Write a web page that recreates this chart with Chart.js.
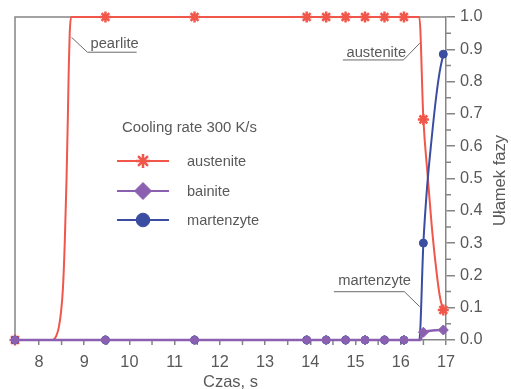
<!DOCTYPE html>
<html>
<head>
<meta charset="utf-8">
<script src="https://cdn.jsdelivr.net/npm/chart.js@4/dist/chart.umd.min.js"></script>
<style>
  html, body { margin: 0; padding: 0; background: #ffffff; }
  #wrap { width: 511px; height: 389px; }
</style>
</head>
<body>
<div id="wrap"><canvas id="c" width="511" height="389"></canvas></div>
<script>
// Axis ticks
const xTicks = [8, 9, 10, 11, 12, 13, 14, 15, 16, 17];
const yTicks = [0, 0.1, 0.2, 0.3, 0.4, 0.5, 0.6, 0.7, 0.8, 0.9, 1.0];
const xRange = [7.47, 17];

// Sampled (marked) times, s, and phase fractions at those times
const sampleTimes = [7.47, 9.47, 11.44, 13.92, 14.35, 14.78, 15.21, 15.64, 16.07, 16.5, 16.94];
const austeniteSamples = [0, 1, 1, 1, 1, 1, 1, 1, 1, 0.683, 0.093];
const bainiteSamples = [0, 0, 0, 0, 0, 0, 0, 0, 0, 0.024, 0.031];
const martensiteSamples = [0, 0, 0, 0, 0, 0, 0, 0, 0, 0.3, 0.885];

// Continuous curves
const austeniteTimes = [7.47, 8.3, 8.38, 8.44, 8.49, 8.53, 8.57, 8.61, 8.64, 8.66, 8.68, 8.71, 16.41, 16.5, 16.6, 16.7, 16.8, 16.87, 16.94];
const austeniteCurve = [0, 0, 0.012, 0.04, 0.09, 0.16, 0.3, 0.5, 0.7, 0.85, 0.95, 1.0, 1.0, 0.683, 0.5, 0.33, 0.2, 0.13, 0.093];
const bainiteTimes = [7.47, 16.43, 16.5, 16.94];
const bainiteCurve = [0, 0, 0.024, 0.031];
const martensiteTimes = [7.47, 16.41, 16.5, 16.58, 16.68, 16.78, 16.86, 16.94];
const martensiteCurve = [0, 0, 0.3, 0.47, 0.62, 0.75, 0.83, 0.885];

// Text
const seriesNames = ['austenite', 'bainite', 'martenzyte'];
const legendTitle = 'Cooling rate 300 K/s';
const xTitle = 'Czas, s';
const yTitle = 'Ułamek fazy';

// Leader-line callouts: text anchor and the polyline (end, elbow, tip) in data units
const calloutTexts = ['pearlite', 'austenite', 'martenzyte'];
const calloutTextAt = [[9.14, 0.904], [14.80, 0.877], [14.62, 0.170]];
const calloutLines = [
  [[10.16, 0.891], [9.07, 0.891], [8.72, 0.937]],
  [[14.72, 0.867], [16.06, 0.867], [16.42, 0.919]],
  [[14.52, 0.1495], [16.08, 0.1495], [16.42, 0.103]]
];

const FONT = "'Liberation Sans', Arial, sans-serif";
const GREY = '#858585';
const TEXT = '#595959';
const RED = '#f0574a';
const PURPLE = '#8c60b0';
const BLUE = '#3b4da1';

const pts = (xs, ys) => xs.map((x, i) => ({ x: x, y: ys[i] }));

const legendStyles = [
  { color: RED, style: 'star', radius: 7, fill: RED, width: 2.5 },
  { color: PURPLE, style: 'rectRot', radius: 8.5, fill: PURPLE, width: 1 },
  { color: BLUE, style: 'circle', radius: 6.8, fill: BLUE, width: 1 }
];

const decorations = {
  id: 'decorations',
  beforeDatasetsDraw(chart) {
    const { ctx, chartArea: a } = chart;
    ctx.save();
    ctx.strokeStyle = GREY;
    ctx.lineWidth = 1.5;
    ctx.beginPath();
    ctx.moveTo(a.left, a.bottom);
    ctx.lineTo(a.left, a.top);
    ctx.lineTo(a.right, a.top);
    ctx.stroke();
    // minor ticks
    const xs = chart.scales.x, ys = chart.scales.y;
    ctx.beginPath();
    for (let v = 8.5; v < 17; v += 1) {
      const px = xs.getPixelForValue(v);
      ctx.moveTo(px, a.bottom);
      ctx.lineTo(px, a.bottom + 5);
    }
    for (let i = 0; i < 10; i++) {
      const py = ys.getPixelForValue(0.05 + i * 0.1);
      ctx.moveTo(a.right, py);
      ctx.lineTo(a.right + 5, py);
    }
    ctx.stroke();
    ctx.restore();
  },
  afterDatasetsDraw(chart) {
    const { ctx, chartArea: a } = chart;
    const xs = chart.scales.x, ys = chart.scales.y;
    ctx.save();
    // callouts
    ctx.strokeStyle = '#6a6a6a';
    ctx.lineWidth = 1;
    ctx.font = '14.7px ' + FONT;
    ctx.fillStyle = TEXT;
    ctx.textBaseline = 'alphabetic';
    ctx.textAlign = 'left';
    calloutTexts.forEach((t, i) => {
      const line = calloutLines[i];
      ctx.beginPath();
      line.forEach((p, j) => {
        const px = xs.getPixelForValue(p[0]), py = ys.getPixelForValue(p[1]);
        if (j === 0) ctx.moveTo(px, py); else ctx.lineTo(px, py);
      });
      ctx.stroke();
      ctx.fillText(t, xs.getPixelForValue(calloutTextAt[i][0]), ys.getPixelForValue(calloutTextAt[i][1]));
    });

    // legend
    const lx = a.left + 102, ly = a.top;
    ctx.font = '14.9px ' + FONT;
    ctx.fillText(legendTitle, lx + 5, ly + 115);
    const rows = [144, 174, 203];
    seriesNames.forEach((name, i) => {
      const s = legendStyles[i];
      const y = ly + rows[i];
      ctx.strokeStyle = s.color;
      ctx.lineWidth = 2;
      ctx.beginPath();
      ctx.moveTo(lx, y);
      ctx.lineTo(lx + 52, y);
      ctx.stroke();
      ctx.fillStyle = s.fill;
      ctx.strokeStyle = s.color;
      ctx.lineWidth = s.width;
      Chart.helpers.drawPoint(ctx, { pointStyle: s.style, radius: s.radius, rotation: 0, borderWidth: s.width }, lx + 26, y);
      ctx.fillStyle = TEXT;
      ctx.font = '14.6px ' + FONT;
      ctx.fillText(name, lx + 70, y + 5);
    });

    // axis titles
    ctx.font = '16.5px ' + FONT;
    ctx.fillStyle = TEXT;
    ctx.textAlign = 'center';
    ctx.fillText(xTitle, (a.left + a.right) / 2, 387);
    ctx.translate(500, (a.top + a.bottom) / 2 + 2);
    ctx.rotate(-Math.PI / 2);
    ctx.textBaseline = 'middle';
    ctx.fillText(yTitle, 0, 0);
    ctx.restore();
  }
};

new Chart(document.getElementById('c'), {
  type: 'line',
  data: {
    datasets: [
      { label: seriesNames[0] + ' curve', data: pts(austeniteTimes, austeniteCurve), borderColor: RED, borderWidth: 2,
        pointRadius: 0, cubicInterpolationMode: 'monotone', clip: false, order: 5 },
      { label: seriesNames[0], data: pts(sampleTimes, austeniteSamples), showLine: false, pointStyle: 'star',
        pointRadius: 5.5, borderColor: RED, backgroundColor: RED, pointBorderWidth: 2.5, clip: false, order: 4 },
      { label: seriesNames[2] + ' curve', data: pts(martensiteTimes, martensiteCurve), borderColor: BLUE, borderWidth: 2,
        pointRadius: 0, cubicInterpolationMode: 'monotone', clip: false, order: 3 },
      { label: seriesNames[2], data: pts(sampleTimes, martensiteSamples), showLine: false, pointStyle: 'circle',
        pointRadius: 4, borderColor: BLUE, backgroundColor: BLUE, pointBorderWidth: 1, clip: false, order: 2 },
      { label: seriesNames[1] + ' curve', data: pts(bainiteTimes, bainiteCurve), borderColor: PURPLE, borderWidth: 2.5,
        pointRadius: 0, cubicInterpolationMode: 'monotone', clip: false, order: 1 },
      { label: seriesNames[1], data: pts(sampleTimes, bainiteSamples), showLine: false, pointStyle: 'rectRot',
        pointRadius: 5, borderColor: PURPLE, backgroundColor: PURPLE, pointBorderWidth: 1, clip: false, order: 0 }
    ]
  },
  options: {
    responsive: false,
    animation: false,
    events: [],
    layout: { padding: { top: 17, left: 15, right: 0, bottom: 0 } },
    plugins: { legend: { display: false }, tooltip: { enabled: false } },
    scales: {
      x: {
        type: 'linear', min: xRange[0], max: xRange[1],
        afterBuildTicks: s => { s.ticks = xTicks.map(v => ({ value: v })); },
        afterFit: s => { s.height = 49; },
        grid: { drawOnChartArea: false, tickLength: 5, color: GREY, lineWidth: 1.5 },
        border: { color: GREY, width: 1.5 },
        ticks: { padding: 8, color: TEXT, font: { family: FONT, size: 16.3 }, maxRotation: 0 }
      },
      y: {
        type: 'linear', position: 'right', min: 0, max: 1,
        afterBuildTicks: s => { s.ticks = yTicks.map(v => ({ value: v })); },
        afterFit: s => { s.width = 65; },
        grid: { drawOnChartArea: false, tickLength: 9, color: GREY, lineWidth: 1.5 },
        border: { color: GREY, width: 1.5 },
        ticks: { padding: 5, color: TEXT, font: { family: FONT, size: 16.3 }, callback: v => v.toFixed(1) }
      }
    }
  },
  plugins: [decorations]
});
</script>
</body>
</html>
